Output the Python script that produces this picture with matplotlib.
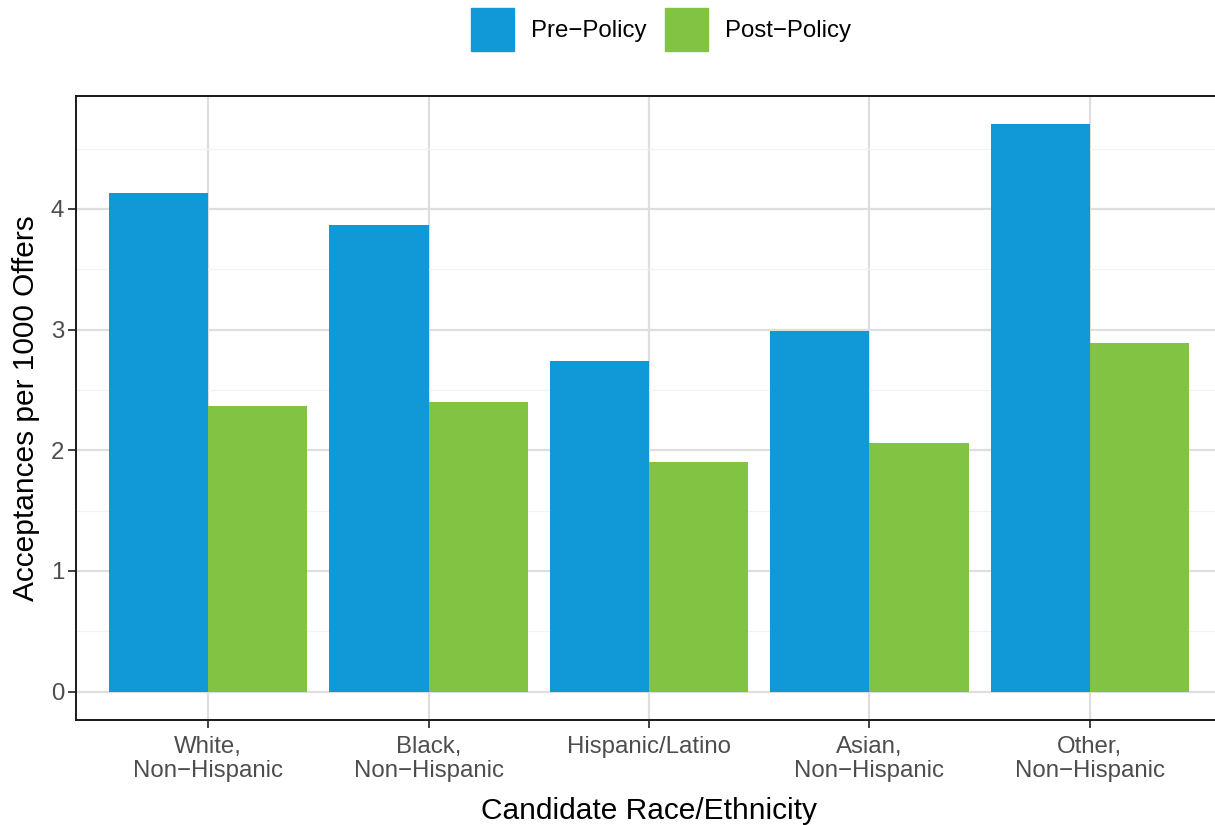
import matplotlib
matplotlib.use("Agg")
import matplotlib.pyplot as plt
import numpy as np
from matplotlib.patches import Patch

# data
groups = ["White,\nNon\u2212Hispanic", "Black,\nNon\u2212Hispanic", "Hispanic/Latino",
          "Asian,\nNon\u2212Hispanic", "Other,\nNon\u2212Hispanic"]
pre_policy = [4.13, 3.87, 2.74, 2.99, 4.70]
post_policy = [2.37, 2.40, 1.90, 2.06, 2.89]
series_labels = ["Pre\u2212Policy", "Post\u2212Policy"]
y_ticks = [0, 1, 2, 3, 4]

BLUE = "#1198D6"
GREEN = "#81C342"
FONTS = ["Liberation Sans", "DejaVu Sans"]

plt.rcParams["font.family"] = FONTS

fig = plt.figure(figsize=(12.15, 8.25), dpi=100)
ax = fig.add_axes([76 / 1215, 105 / 825, 1146 / 1215, 624 / 825])

x = np.arange(1, len(groups) + 1)
w = 0.45
ax.bar(x - w / 2, pre_policy, width=w, color=BLUE, zorder=3, linewidth=0)
ax.bar(x + w / 2, post_policy, width=w, color=GREEN, zorder=3, linewidth=0)

ymax = max(pre_policy)
ax.set_ylim(-0.05 * ymax, 1.05 * ymax)
ax.set_xlim(0.4, len(groups) + 0.6)

ax.set_yticks(y_ticks)
ax.set_yticks(np.arange(0.5, 5, 1), minor=True)
ax.set_xticks(x)
ax.set_xticklabels(groups, linespacing=1.12)

ax.grid(which="major", color="#DEDEDE", linewidth=1.6, zorder=0)
ax.grid(which="minor", axis="y", color="#F2F2F2", linewidth=0.9, zorder=0)
ax.tick_params(which="minor", length=0)
ax.tick_params(which="major", length=5.5, width=1.3, color="#333333",
               labelsize=17.3, labelcolor="#4D4D4D", pad=3)
ax.tick_params(axis="x", pad=6)
for s in ax.spines.values():
    s.set_color("#1A1A1A")
    s.set_linewidth(1.4)
ax.set_axisbelow(True)

ax.set_xlabel("Candidate Race/Ethnicity", fontsize=21.5, labelpad=11)
ax.set_ylabel("Acceptances per 1000 Offers", fontsize=21.5, labelpad=8)

handles = [Patch(color=BLUE), Patch(color=GREEN)]
fig.legend(handles, series_labels, loc="center", bbox_to_anchor=(661 / 1215, 1 - 29.5 / 825),
           ncol=2, frameon=False, fontsize=17.3, handlelength=1.8, handleheight=2.4,
           handletextpad=0.7, columnspacing=0.75, borderpad=0)

fig.savefig("out.png", dpi=100)
